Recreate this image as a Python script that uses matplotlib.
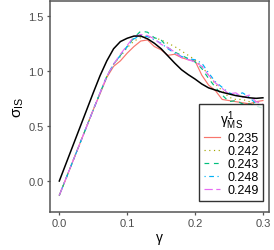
import matplotlib
matplotlib.use("Agg")
import matplotlib.pyplot as plt
import numpy as np

plt.rcParams['font.family'] = ['Liberation Sans', 'DejaVu Sans']
plt.rcParams['mathtext.fontset'] = 'custom'
plt.rcParams['mathtext.rm'] = 'Liberation Sans'
plt.rcParams['mathtext.it'] = 'Liberation Sans'
plt.rcParams['mathtext.bf'] = 'Liberation Sans:bold'

gamma = [0.00, 0.01, 0.02, 0.03, 0.04, 0.05, 0.06, 0.07, 0.08, 0.09,
         0.10, 0.11, 0.12, 0.13, 0.14, 0.15, 0.16, 0.17, 0.18, 0.19,
         0.20, 0.21, 0.22, 0.23, 0.24, 0.25, 0.26, 0.27, 0.28, 0.29, 0.30]

reference = [0.00, 0.16, 0.32, 0.48, 0.64, 0.80, 0.955, 1.09, 1.20, 1.265,
             1.295, 1.315, 1.315, 1.29, 1.25, 1.20, 1.135, 1.07, 1.01, 0.965,
             0.925, 0.88, 0.845, 0.825, 0.805, 0.79, 0.775, 0.765, 0.755, 0.75, 0.755]

labels = ["0.235", "0.242", "0.243", "0.248", "0.249"]

s235 = [-0.13, 0.025, 0.18, 0.335, 0.49, 0.645, 0.79, 0.94, 1.04, 1.09,
        1.16, 1.22, 1.27, 1.28, 1.22, 1.19, 1.14, 1.15, 1.12, 1.10,
        1.09, 0.96, 0.87, 0.82, 0.74, 0.73, 0.72, 0.71, 0.70, 0.72, 0.73]
s242 = [-0.13, 0.025, 0.18, 0.335, 0.49, 0.645, 0.80, 0.95, 1.06, 1.13,
        1.21, 1.27, 1.30, 1.31, 1.30, 1.28, 1.25, 1.22, 1.18, 1.14,
        1.10, 1.04, 0.96, 0.88, 0.82, 0.76, 0.74, 0.74, 0.72, 0.70, 0.68]
s243 = [-0.13, 0.025, 0.18, 0.335, 0.49, 0.645, 0.80, 0.95, 1.06, 1.14,
        1.22, 1.30, 1.36, 1.35, 1.30, 1.28, 1.21, 1.17, 1.14, 1.11,
        1.08, 1.02, 0.93, 0.85, 0.78, 0.72, 0.73, 0.70, 0.70, 0.68, 0.66]
s248 = [-0.13, 0.025, 0.18, 0.335, 0.49, 0.645, 0.80, 0.95, 1.06, 1.14,
        1.22, 1.29, 1.32, 1.31, 1.28, 1.25, 1.20, 1.16, 1.13, 1.11,
        1.10, 1.07, 0.98, 0.90, 0.85, 0.80, 0.78, 0.80, 0.76, 0.70, 0.68]
s249 = [-0.13, 0.025, 0.18, 0.335, 0.49, 0.645, 0.80, 0.95, 1.06, 1.15,
        1.23, 1.31, 1.33, 1.32, 1.29, 1.24, 1.21, 1.17, 1.12, 1.10,
        1.08, 1.04, 0.96, 0.89, 0.84, 0.79, 0.80, 0.76, 0.78, 0.72, 0.70]

series = [s235, s242, s243, s248, s249]
colors = ["#F8766D", "#A3A500", "#00BF7D", "#00B0F6", "#E76BF3"]
dashes = [None, (1, 3), (4, 4), (1, 3, 4, 3), (7, 3)]

fig = plt.figure(figsize=(2.74, 2.51), dpi=100)
ax = fig.add_axes([0.1825, 0.1514, 0.7993, 0.8406])

for ys, c, d, lab in zip(series, colors, dashes, labels):
    line, = ax.plot(gamma, ys, color=c, lw=0.85, label=lab)
    if d is not None:
        line.set_dashes(d)
ax.plot(gamma, reference, color="black", lw=1.1)

ax.set_xlim(-0.0137, 0.309)
ax.set_ylim(-0.281, 1.633)
ax.set_xticks([0.0, 0.1, 0.2, 0.3])
ax.set_xticklabels(["0.0", "0.1", "0.2", "0.3"])
ax.set_yticks([0.0, 0.5, 1.0, 1.5])
ax.set_yticklabels(["0.0", "0.5", "1.0", "1.5"])

for sp in ax.spines.values():
    sp.set_color("#555555")
    sp.set_linewidth(1.1)
ax.tick_params(colors="#555555", labelcolor="#4d4d4d", labelsize=8, length=2.5, width=0.9, pad=2)

ax.set_xlabel("γ", fontsize=10, labelpad=1)
ax.set_ylabel(r"$\sigma_{\mathrm{IS}}$", fontsize=11, labelpad=2)

leg = ax.legend(title=r"$\gamma^{1}_{\mathrm{MS}}$", loc="lower right",
                bbox_to_anchor=(0.973, 0.054), fontsize=9, title_fontsize=10,
                frameon=True, fancybox=False, handlelength=1.35, handletextpad=0.55,
                labelspacing=0.08, borderpad=0.35, borderaxespad=0)
leg.get_frame().set_edgecolor("black")
leg.get_frame().set_linewidth(1.0)

fig.savefig("out.png", dpi=100)
